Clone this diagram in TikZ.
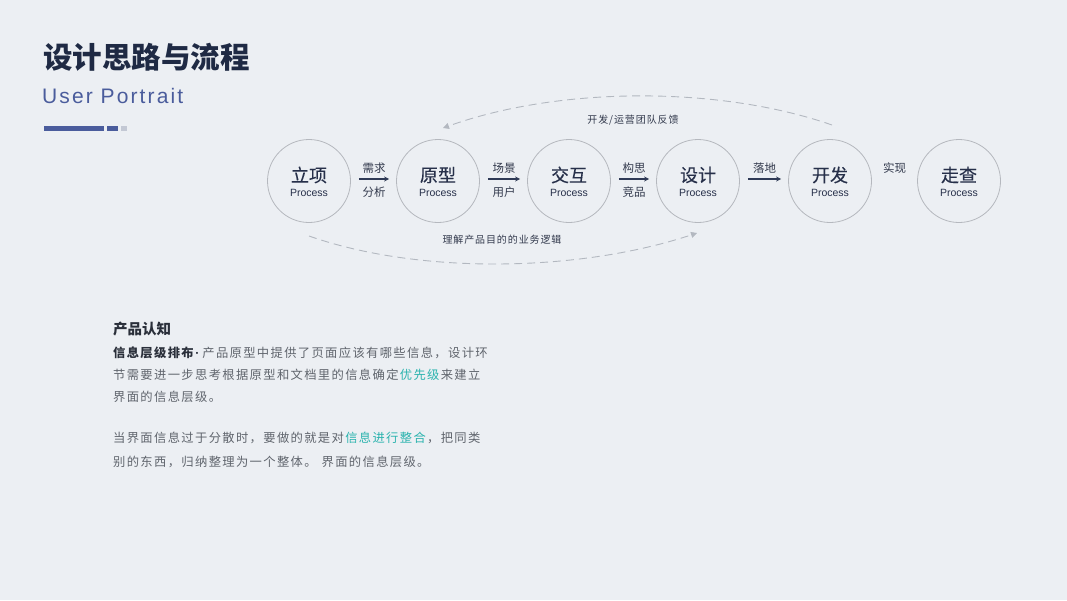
\documentclass[tikz,border=0pt]{standalone}
\usepackage{fontspec}
\usetikzlibrary{arrows.meta}
\setmainfont{Noto Sans CJK SC}
\newfontfamily\cjk{Noto Sans CJK SC}
\newfontfamily\cjkm[FakeBold=0.25]{Noto Sans CJK SC}
\newfontfamily\cjksp[LetterSpace=9]{Noto Sans CJK SC}
\newfontfamily\cjkpara[LetterSpace=11]{Noto Sans CJK SC}
\newfontfamily\latsp[LetterSpace=10]{Liberation Sans}
\newfontfamily\arialf{Liberation Sans}
\definecolor{bgc}{HTML}{ECEFF3}
\definecolor{titlec}{HTML}{1F2A44}
\definecolor{userc}{HTML}{4A5C9C}
\definecolor{barlight}{HTML}{C3C8D4}
\definecolor{circc}{HTML}{B5B8BE}
\definecolor{navyc}{HTML}{27304A}
\definecolor{lblc}{HTML}{333A4D}
\definecolor{arrc}{HTML}{2F3A56}
\definecolor{dashc}{HTML}{B3B8C0}
\definecolor{parac}{HTML}{60656D}
\definecolor{darkc}{HTML}{2A2F3A}
\definecolor{tealc}{HTML}{2AB3AE}
\newcommand\stagenode[3]{%
  \node[stage] (#1) at (#2,181) {};
  \node[stagetitle] (#1t) at (#2,175) {#3};
  \node[stagesub] (#1s) at (#2,192.5) {Process};
}
\newcommand\hl[1]{\kern1.3pt{\color{tealc}#1}\kern1.3pt}
\begin{document}
\begin{tikzpicture}[x=1pt,y=-1pt,
  stage/.style={circle, draw=circc, line width=0.8pt, minimum size=83pt, inner sep=0pt},
  stagetitle/.style={inner sep=0pt, text=navyc, font=\cjkm\fontsize{18}{20}\selectfont},
  stagesub/.style={inner sep=0pt, text=navyc, font=\arialf\fontsize{10.5}{12}\selectfont},
  flow/.style={draw=arrc, line width=1.1pt, -{Stealth[length=5pt,width=5pt]}},
  lbl/.style={inner sep=0pt, text=lblc, font=\cjk\fontsize{11.5}{13}\selectfont},
  fb/.style={draw=dashc, line width=0.9pt, dash pattern=on 8pt off 5pt, -{Triangle[length=6pt,width=6pt]}},
  fblbl/.style={inner sep=0pt, text=lblc, font=\cjksp\fontsize{10}{12}\selectfont},
  para/.style={inner sep=0pt, anchor=west, text=parac, font=\cjkpara\fontsize{12.3}{14}\selectfont},
]
\fill[bgc] (0,0) rectangle (1067,600);
\useasboundingbox (0,0) rectangle (1067,600);

% header
\node[inner sep=0pt, anchor=west, text=titlec, font=\cjk\bfseries\fontsize{29.5}{32}\selectfont] (title) at (43,57) {设计思路与流程};
\node[inner sep=0pt, anchor=west, text=userc, font=\latsp\fontsize{21}{24}\selectfont] (user) at (42,95.5) {User Portrait};
\fill[userc] (44,126) rectangle (104,131);
\fill[userc] (107,126) rectangle (118,131);
\fill[barlight] (121,126) rectangle (127,131);

% stages
\stagenode{c1}{309}{立项}
\stagenode{c2}{438}{原型}
\stagenode{c3}{569}{交互}
\stagenode{c4}{698}{设计}
\stagenode{c5}{830}{开发}
\stagenode{c6}{959}{走查}

\draw[flow] ([xshift=8pt,yshift=2pt]c1.east) -- ([xshift=-7pt,yshift=2pt]c2.west)
  node[lbl, midway, yshift=11pt] {需求} node[lbl, midway, yshift=-13pt] {分析};
\draw[flow] ([xshift=8pt,yshift=2pt]c2.east) -- ([xshift=-7pt,yshift=2pt]c3.west)
  node[lbl, midway, yshift=11pt] {场景} node[lbl, midway, yshift=-13pt] {用户};
\draw[flow] ([xshift=8pt,yshift=2pt]c3.east) -- ([xshift=-7pt,yshift=2pt]c4.west)
  node[lbl, midway, yshift=11pt] {构思} node[lbl, midway, yshift=-13pt] {竞品};
\draw[flow] ([xshift=8pt,yshift=2pt]c4.east) -- ([xshift=-7pt,yshift=2pt]c5.west)
  node[lbl, midway, yshift=11pt] {落地};
\path ([yshift=2pt]c5.east) -- ([yshift=2pt]c6.west)
  node[lbl, midway, yshift=11pt] {实现};

% feedback loops
\coordinate (fbS) at (832,125);
\coordinate (fbE) at (443,128);
\draw[fb] (fbS) .. controls (720,86) and (560,86) .. (fbE);
\node[fblbl] (fbt) at (633,120.5) {开发/运营团队反馈};
\coordinate (lgS) at (309,236);
\coordinate (lgE) at (697,233);
\draw[fb] (lgS) .. controls (420,275) and (580,272) .. (lgE);
\node[fblbl] (lgt) at (502,240) {理解产品目的的业务逻辑};

% text block
\node[inner sep=0pt, anchor=west, text=darkc, font=\cjk\bfseries\fontsize{14.5}{16}\selectfont] (head) at (113,329) {产品认知};
\node[para] (p1) at (113,353) {{\color{darkc}\bfseries 信息层级排布}\kern1.5pt{\color{darkc}\arialf\bfseries ·}\kern3pt 产品原型中提供了页面应该有哪些信息，设计环};
\node[para] (p2) at (113,375) {节需要进一步思考根据原型和文档里的信息确定\hl{优先级}来建立};
\node[para] (p3) at (113,397) {界面的信息层级。};
\node[para] (p4) at (113,438) {当界面信息过于分散时，要做的就是对\hl{信息进行整合}，把同类};
\node[para] (p5) at (113,462) {别的东西，归纳整理为一个整体。\hspace{5pt}界面的信息层级。};
\end{tikzpicture}
\end{document}
